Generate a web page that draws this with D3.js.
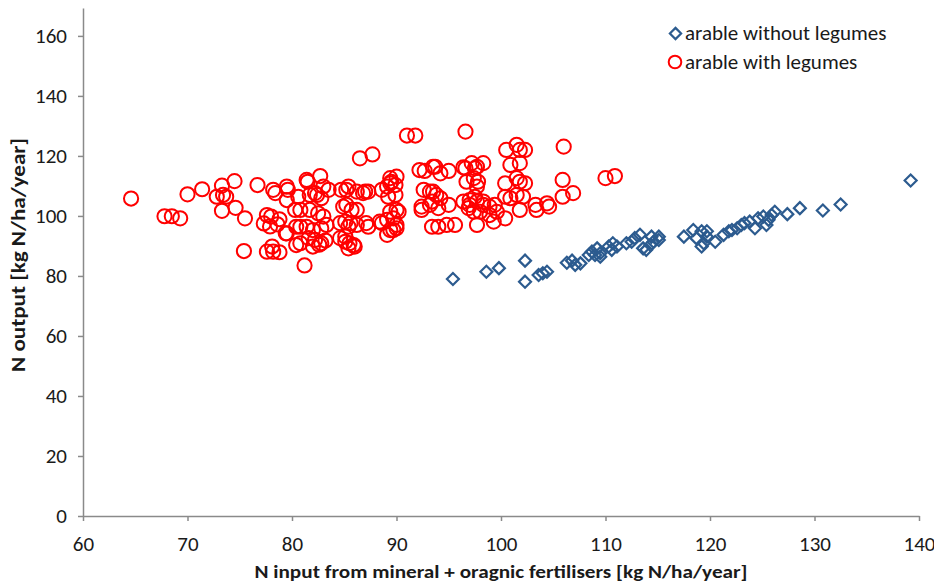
<!DOCTYPE html>
<html>
<head>
<meta charset="utf-8">
<script src="https://cdn.jsdelivr.net/npm/d3@7"></script>
<style>
  html, body { margin: 0; padding: 0; background: #fff; }
  svg text { font-family: Carlito, "Liberation Sans Narrow", "Open Sans", sans-serif; }
</style>
</head>
<body>
<svg id="chart" width="934" height="585"></svg>
<script>
// Arable farms without legumes: [N input, N output] in kg N/ha/year
const withoutLegumes = [
  [95.4, 79.0], [98.6, 81.4], [99.8, 82.6], [102.3, 85.1], [102.3, 78.1],
  [103.6, 80.3], [104.0, 80.9], [104.4, 81.4], [106.3, 84.4], [106.8, 85.1],
  [107.1, 83.7], [107.6, 84.2], [108.4, 87.0], [108.7, 88.1], [109.0, 87.0],
  [109.2, 89.2], [109.5, 86.4], [109.5, 87.6], [110.3, 89.8], [110.6, 88.7],
  [110.7, 90.9], [111.1, 89.8], [112.0, 90.9], [112.5, 91.4], [112.8, 92.6],
  [113.3, 93.7], [113.6, 89.2], [113.9, 88.7], [114.3, 90.3], [114.6, 91.4],
  [115.1, 92.0], [114.4, 93.1], [115.1, 93.1], [117.5, 93.1], [118.4, 95.3],
  [118.7, 92.6], [119.2, 94.9], [119.4, 90.9], [119.7, 94.9], [119.2, 89.8],
  [119.7, 93.1], [120.5, 91.4], [121.3, 93.7], [121.8, 94.9], [122.1, 95.3],
  [122.6, 95.9], [123.0, 97.0], [123.3, 97.6], [123.8, 98.1], [124.3, 95.9],
  [124.6, 99.2], [125.1, 99.8], [125.4, 97.0], [125.6, 98.7], [125.9, 100.3],
  [126.2, 101.4], [127.4, 100.6], [128.6, 102.6], [130.8, 101.8], [132.5, 103.8],
  [139.2, 111.8]
];

// Arable farms with legumes: [N input, N output] in kg N/ha/year
const withLegumes = [
  [64.6, 105.8], [67.8, 99.9], [68.5, 99.9], [69.3, 99.2], [70.0, 107.2],
  [71.4, 108.9], [73.3, 110.1], [74.5, 111.6], [72.8, 106.4], [73.4, 107.0],
  [73.7, 106.4], [73.3, 101.7], [74.6, 102.7], [75.5, 99.2], [75.4, 88.3],
  [76.7, 110.3], [77.6, 100.3], [78.0, 99.8], [78.2, 108.7], [78.4, 107.6],
  [79.5, 109.8], [79.5, 105.3], [77.6, 88.1], [78.1, 89.8], [78.2, 88.1],
  [78.8, 87.9], [78.8, 98.9], [79.4, 94.2], [80.3, 102.0], [80.4, 90.3],
  [80.8, 96.4], [81.2, 83.5], [79.6, 108.7], [80.6, 106.4], [81.5, 111.4],
  [82.7, 113.3], [83.0, 109.8], [83.5, 108.7], [81.7, 107.0], [82.4, 107.0],
  [82.8, 105.9], [80.8, 102.0], [81.7, 102.0], [82.5, 100.9], [83.0, 99.8],
  [80.4, 96.4], [81.4, 96.4], [82.0, 95.3], [82.8, 95.9], [83.3, 97.0],
  [81.6, 92.6], [82.2, 92.0], [82.8, 90.9], [83.2, 91.8], [81.4, 112.0],
  [82.2, 107.6], [77.3, 97.5], [77.9, 96.5], [78.6, 97.2], [79.5, 94.2],
  [80.8, 90.9], [82.0, 89.8], [82.6, 90.4], [84.7, 108.7], [85.4, 109.8],
  [86.2, 108.1], [87.0, 108.1], [84.9, 103.1], [85.7, 102.0], [84.6, 97.6],
  [85.4, 96.4], [86.2, 97.0], [87.1, 97.6], [85.1, 93.1], [85.5, 90.9],
  [86.0, 89.8], [85.2, 108.7], [86.8, 107.6], [87.3, 108.1], [85.2, 103.7],
  [86.2, 102.0], [85.1, 98.1], [85.6, 97.6], [87.3, 96.4], [84.6, 92.6],
  [85.1, 91.4], [85.4, 89.2], [85.9, 90.3], [86.5, 119.2], [87.7, 120.5],
  [88.6, 108.7], [89.1, 109.8], [89.5, 111.4], [89.9, 110.3], [89.4, 110.9],
  [90.0, 113.1], [89.2, 106.4], [88.4, 98.1], [89.1, 98.7], [89.7, 99.2],
  [90.2, 101.4], [90.0, 102.0], [89.1, 93.7], [89.7, 95.3], [88.6, 97.6],
  [89.4, 95.3], [90.0, 97.0], [89.4, 112.6], [89.9, 107.0], [89.4, 101.4],
  [90.0, 95.9], [91.0, 126.8], [91.8, 126.8], [96.6, 128.1], [92.7, 115.0],
  [93.7, 116.4], [94.2, 114.2], [95.0, 115.0], [92.2, 115.3], [93.5, 116.4],
  [92.6, 108.7], [93.5, 108.1], [93.8, 107.0], [93.2, 108.1], [92.4, 103.1],
  [93.2, 103.7], [94.0, 102.6], [93.4, 104.8], [94.2, 105.9], [95.0, 103.7],
  [92.4, 102.0], [93.4, 96.4], [94.0, 96.4], [94.8, 97.0], [95.6, 97.0],
  [96.4, 116.2], [97.2, 117.6], [97.7, 116.4], [98.3, 117.6], [96.6, 115.9],
  [97.5, 115.9], [96.7, 111.4], [97.4, 112.6], [97.8, 111.4], [97.7, 109.8],
  [96.4, 104.8], [97.0, 103.7], [97.7, 104.8], [98.3, 103.7], [98.9, 103.1],
  [99.4, 103.7], [99.6, 101.4], [98.9, 100.3], [98.0, 101.4], [97.4, 101.4],
  [96.9, 102.6], [97.0, 105.3], [97.5, 106.4], [98.3, 104.8], [97.7, 97.0],
  [99.3, 98.1], [100.4, 99.2], [100.5, 122.0], [101.5, 123.7], [101.8, 122.0],
  [102.3, 122.0], [106.0, 123.1], [100.9, 117.0], [101.8, 117.6], [100.4, 110.9],
  [101.5, 112.6], [101.8, 111.4], [102.3, 110.9], [100.4, 106.4], [100.9, 105.9],
  [101.5, 107.0], [102.1, 106.4], [101.8, 102.0], [103.3, 103.7], [103.4, 102.0],
  [104.4, 104.2], [104.6, 103.1], [105.9, 112.0], [106.9, 107.6], [105.9, 106.4],
  [110.0, 112.6], [110.9, 113.3]
];

const xTicks = [60, 70, 80, 90, 100, 110, 120, 130, 140];
const yTicks = [0, 20, 40, 60, 80, 100, 120, 140, 160];

const seriesNames = ["arable without legumes", "arable with legumes"];
const blue = "#2c5b8f";
const red = "#ff0000";
const axisGrey = "#8a8a8a";
const textColour = "#1a1a1a";

const svg = d3.select("#chart");

const x = d3.scaleLinear().domain([60, 140]).range([83, 919]);
const y = d3.scaleLinear().domain([0, 169.3]).range([516, 8]);

// Y axis
const yAxis = svg.append("g")
  .attr("transform", `translate(${x(60)},0)`)
  .call(d3.axisLeft(y).tickValues(yTicks).tickSize(5).tickSizeOuter(0).tickPadding(11));
// X axis
const xAxis = svg.append("g")
  .attr("transform", `translate(0,${y(0)})`)
  .call(d3.axisBottom(x).tickValues(xTicks).tickSize(5).tickSizeOuter(0).tickPadding(15));

[yAxis, xAxis].forEach(g => {
  g.select(".domain").attr("stroke", axisGrey).attr("stroke-width", 1.5);
  g.selectAll(".tick line").attr("stroke", axisGrey).attr("stroke-width", 1.5);
  g.selectAll(".tick text").attr("fill", textColour).style("font-size", "21px");
});

// Axis titles
svg.append("text")
  .attr("x", 501).attr("y", 578)
  .attr("text-anchor", "middle")
  .attr("fill", textColour)
  .attr("textLength", 493).attr("lengthAdjust", "spacingAndGlyphs")
  .style("font-size", "19px").style("font-weight", "bold")
  .text("N input from mineral + oragnic fertilisers [kg N/ha/year]");

svg.append("text")
  .attr("transform", "translate(25,255) rotate(-90)")
  .attr("text-anchor", "middle")
  .attr("fill", textColour)
  .attr("textLength", 234).attr("lengthAdjust", "spacingAndGlyphs")
  .style("font-size", "20px").style("font-weight", "bold")
  .text("N output [kg N/ha/year]");

// Diamond marker path centred on the origin
const diamond = (s) => `M0,${-s}L${s},0L0,${s}L${-s},0Z`;

// Points: circles (with legumes) first, diamonds on top
svg.append("g").selectAll("circle")
  .data(withLegumes)
  .join("circle")
  .attr("cx", d => x(d[0]))
  .attr("cy", d => y(d[1]))
  .attr("r", 7.1)
  .attr("fill", "none")
  .attr("stroke", red)
  .attr("stroke-width", 2);

svg.append("g").selectAll("path")
  .data(withoutLegumes)
  .join("path")
  .attr("transform", d => `translate(${x(d[0])},${y(d[1])})`)
  .attr("d", diamond(6))
  .attr("fill", "none")
  .attr("stroke", blue)
  .attr("stroke-width", 2.2);

// Legend
const legend = svg.append("g");
legend.append("path")
  .attr("transform", "translate(675.5,33.5)")
  .attr("d", diamond(5.6))
  .attr("fill", "none").attr("stroke", blue).attr("stroke-width", 2.2);
legend.append("circle")
  .attr("cx", 675).attr("cy", 62).attr("r", 6.3)
  .attr("fill", "none").attr("stroke", red).attr("stroke-width", 2);
legend.selectAll("text")
  .data(seriesNames)
  .join("text")
  .attr("x", 685)
  .attr("y", (d, i) => 40 + i * 28.5)
  .attr("fill", textColour)
  .style("font-size", "21px")
  .text(d => d);
</script>
</body>
</html>
